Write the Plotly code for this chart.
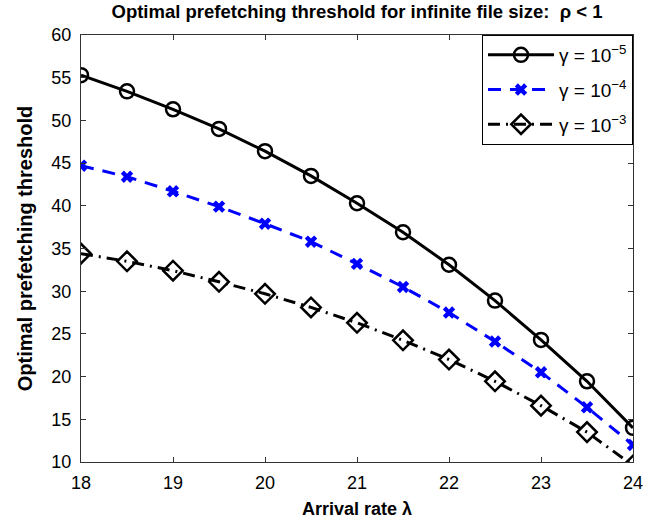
import plotly.graph_objects as go

lam = [18, 18.5, 19, 19.5, 20, 20.5, 21, 21.5, 22, 22.5, 23, 23.5, 24]
g5 = [55.3, 53.4, 51.3, 49.0, 46.4, 43.5, 40.3, 36.9, 33.1, 28.9, 24.3, 19.45, 14.0]
g4 = [44.7, 43.4, 41.7, 39.9, 37.9, 35.8, 33.2, 30.5, 27.5, 24.1, 20.5, 16.4, 12.0]
g3 = [34.4, 33.5, 32.4, 31.1, 29.7, 28.1, 26.3, 24.25, 22.0, 19.45, 16.6, 13.5, 9.6]

names = ["γ = 10<sup>−5</sup>", "γ = 10<sup>−4</sup>", "γ = 10<sup>−3</sup>"]

FONT = "Liberation Sans, Arial, Helvetica"

fig = go.Figure()
fig.add_trace(go.Scatter(x=lam, y=g5, name=names[0], legendgroup="a", mode="lines+markers",
                         line=dict(color="black", width=3),
                         marker=dict(symbol="circle-open", size=14, color="black",
                                     line=dict(width=2.5, color="black"))))
fig.add_trace(go.Scatter(x=lam, y=g4, name=names[1], legendgroup="b", mode="lines+markers",
                         line=dict(color="blue", width=3, dash="13px,9px"),
                         marker=dict(symbol="x", size=11, color="blue",
                                     line=dict(width=0))))
fig.add_trace(go.Scatter(x=lam, y=g3, name=names[2], legendgroup="c", mode="lines+markers",
                         line=dict(color="black", width=3, dash="12px,6px,2px,6px"),
                         marker=dict(symbol="diamond-open", size=15, color="black",
                                     line=dict(width=2.5, color="black"))))

axcommon = dict(showline=True, linecolor="#333", linewidth=1, mirror="allticks",
                ticks="inside", ticklen=5, tickcolor="#333", showgrid=False,
                zeroline=False, automargin=False,
                tickfont=dict(family=FONT, size=18, color="black"))

fig.update_xaxes(range=[18, 24], dtick=1, ticklabelstandoff=4,
                 title=dict(text="<b>Arrival rate λ</b>",
                            font=dict(family=FONT, size=18, color="black"), standoff=10),
                 **axcommon)
fig.update_yaxes(range=[10, 60], dtick=5, ticklabelstandoff=5,
                 title=dict(text="<b>Optimal prefetching threshold</b>",
                            font=dict(family=FONT, size=20, color="black"), standoff=13),
                 **axcommon)

fig.update_layout(
    width=662, height=520,
    margin=dict(l=81, r=29, t=35, b=58),
    paper_bgcolor="white", plot_bgcolor="white",
    title=dict(text="<b>Optimal prefetching threshold for infinite file size:  ρ < 1</b>",
               x=(81 + 633) / 2 / 662, xanchor="center", xref="container",
               y=1 - 12 / 520, yanchor="middle", yref="container",
               font=dict(family=FONT, size=18.5, color="black")),
    legend=dict(x=1, y=1, xanchor="right", yanchor="top", bgcolor="white",
                bordercolor="black", borderwidth=1, traceorder="grouped",
                font=dict(family=FONT, size=19, color="black"),
                itemwidth=66, tracegroupgap=7),
    showlegend=True,
)

fig.write_html("out.html")
